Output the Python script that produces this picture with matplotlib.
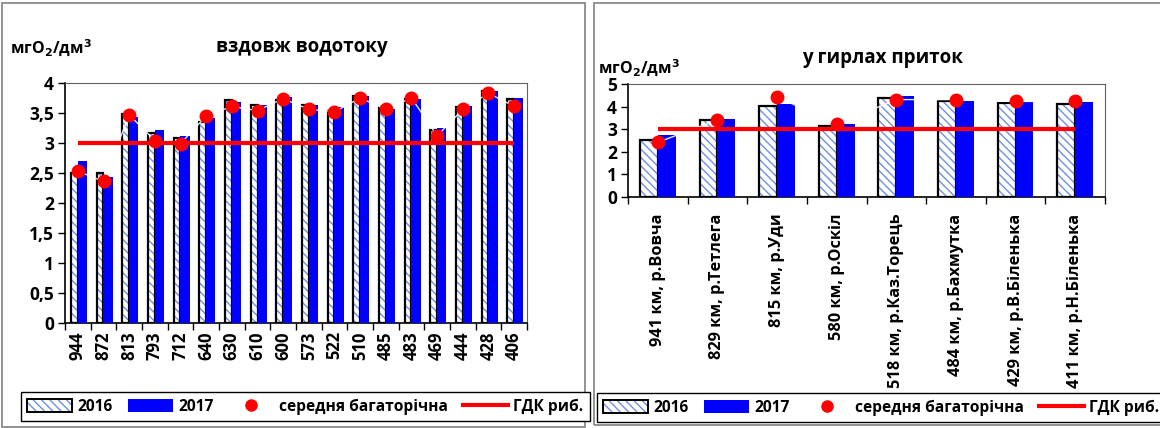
import numpy as np
import matplotlib.pyplot as plt
from matplotlib.patches import Patch, Rectangle
from matplotlib.lines import Line2D
from matplotlib.legend_handler import HandlerTuple

plt.rcParams['font.family'] = ['Open Sans', 'DejaVu Sans']
plt.rcParams['font.weight'] = 'bold'

# вздовж водотоку
km_main = ['944', '872', '813', '793', '712', '640', '630', '610', '600',
           '573', '522', '510', '485', '483', '469', '444', '428', '406']
main_2016 = [2.5, 2.5, 3.48, 3.16, 3.08, 3.35, 3.72, 3.63, 3.72,
             3.64, 3.53, 3.78, 3.6, 3.74, 3.22, 3.6, 3.87, 3.73]
main_2017 = [2.7, 2.44, 3.44, 3.21, 3.12, 3.42, 3.68, 3.63, 3.77,
             3.63, 3.6, 3.78, 3.57, 3.73, 3.25, 3.62, 3.86, 3.75]
main_avg = [2.53, 2.36, 3.47, 3.04, 2.99, 3.45, 3.61, 3.54, 3.74,
            3.56, 3.52, 3.75, 3.56, 3.75, 3.12, 3.56, 3.83, 3.61]

# у гирлах приток
trib_names = ['941 км, р.Вовча', '829 км, р.Тетлега', '815 км, р.Уди',
              '580 км, р.Оскіл', '518 км, р.Каз.Торець', '484 км, р.Бахмутка',
              '429 км, р.В.Біленька', '411 км, р.Н.Біленька']
trib_2016 = [2.5, 3.42, 4.03, 3.16, 4.4, 4.25, 4.15, 4.1]
trib_2017 = [2.75, 3.44, 4.1, 3.22, 4.45, 4.23, 4.2, 4.2]
trib_avg = [2.42, 3.41, 4.43, 3.22, 4.31, 4.31, 4.23, 4.23]

gdk = 3.0

BLUE = '#0000ff'
HATCH_C = '#6f8fe6'
RED = '#ff0000'

fig = plt.figure(figsize=(11.6, 4.28), dpi=100)

# рамки панелей
fig.patches.append(Rectangle((2 / 1160, 1 - 427 / 428), 583 / 1160, 424 / 428,
                             transform=fig.transFigure, fill=False,
                             edgecolor='#808080', lw=1.2))
fig.patches.append(Rectangle((594 / 1160, 1 - 425 / 428), 570 / 1160, 422 / 428,
                             transform=fig.transFigure, fill=False,
                             edgecolor='#808080', lw=1.2))


def draw(ax, labels, v16, v17, avg, ymax, ystep, w16, w17, xfs, xpad):
    x = np.arange(len(labels))
    ax.bar(x - w16 / 2, v16, w16, color='white', edgecolor=HATCH_C,
           hatch='\\\\\\\\', lw=0, zorder=2)
    ax.bar(x - w16 / 2, v16, w16, fill=False, edgecolor='black', lw=1.6, zorder=2.1)
    ax.bar(x + w17 / 2, v17, w17, color=BLUE, lw=0, zorder=3)
    ax.plot(x, avg, color='white', lw=1, alpha=0.9, zorder=3.5)
    ax.plot([0, len(labels) - 1], [gdk, gdk], color=RED, lw=3, zorder=4,
            solid_capstyle='butt')
    ax.plot(x, avg, 'o', color=RED, ms=9, zorder=5)

    ax.set_xlim(-0.5, len(labels) - 0.5)
    ax.set_ylim(0, ymax)
    yt = np.arange(0, ymax + 0.001, ystep)
    ax.set_yticks(yt)
    ax.set_yticklabels([('%g' % v).replace('.', ',') for v in yt],
                       fontsize=12.5, fontweight='bold')
    ax.set_xticks(np.arange(-0.5, len(labels)), minor=False)
    ax.set_xticklabels([])
    ax.set_xticks(x, minor=True)
    ax.set_xticklabels(labels, minor=True, rotation=90, fontsize=xfs,
                       fontweight='bold', va='top', ha='center')
    ax.tick_params(axis='x', which='minor', length=0, pad=xpad)
    ax.tick_params(axis='x', which='major', length=5, direction='out', width=1)
    ax.tick_params(axis='y', length=5, direction='out', width=1, pad=3)
    for s in ['top', 'right']:
        ax.spines[s].set_color('#606060')
    for s in ['left', 'bottom']:
        ax.spines[s].set_color('black')
        ax.spines[s].set_linewidth(1.2)


ax1 = fig.add_axes([65 / 1160, 105 / 428, 462 / 1160, 240 / 428])
draw(ax1, km_main, main_2016, main_2017, main_avg, 4, 0.5, 0.26, 0.36, 12, 6)
fig.text(302 / 1160, 1 - 47 / 428, 'вздовж водотоку', ha='center', va='center',
         fontsize=13.5, fontweight='bold')
fig.text(10 / 1160, 1 - 48 / 428, r'мгО$_\mathbf{2}$/дм$^\mathbf{3}$', ha='left',
         va='center', fontsize=11.5, fontweight='bold')

ax2 = fig.add_axes([628 / 1160, 231 / 428, 477 / 1160, 113 / 428])
draw(ax2, trib_names, trib_2016, trib_2017, trib_avg, 5, 1, 0.3, 0.3, 11.8, 12)
fig.text(883 / 1160, 1 - 58 / 428, 'у гирлах приток', ha='center', va='center',
         fontsize=13.5, fontweight='bold')
fig.text(598 / 1160, 1 - 68 / 428, r'мгО$_\mathbf{2}$/дм$^\mathbf{3}$', ha='left',
         va='center', fontsize=11.5, fontweight='bold')

h16 = (Patch(facecolor='white', edgecolor=HATCH_C, hatch='\\\\\\\\', lw=0),
       Patch(fill=False, edgecolor='black', lw=1.4))
h17 = Patch(facecolor=BLUE, lw=0)
hav = Line2D([], [], ls='none', marker='o', color=RED, ms=8)
hg = Line2D([], [], color=RED, lw=3)
handles = [h16, h17, hav, hg]
names = ['2016', '2017', 'середня багаторічна', 'ГДК риб.']

for x0, y0 in [(21, 421), (597, 422)]:
    fig.legend(handles, names, ncol=4, loc='lower left',
               bbox_to_anchor=(x0 / 1160, 1 - y0 / 428),
               handler_map={tuple: HandlerTuple(ndivide=1, pad=0)},
               prop={'size': 11.2, 'weight': 'bold'}, frameon=True,
               fancybox=False, edgecolor='black', framealpha=1,
               handlelength=2.9, handleheight=0.9, handletextpad=0.35,
               columnspacing=0.95, borderpad=0.4, borderaxespad=0)

fig.savefig('out.png', dpi=100)
